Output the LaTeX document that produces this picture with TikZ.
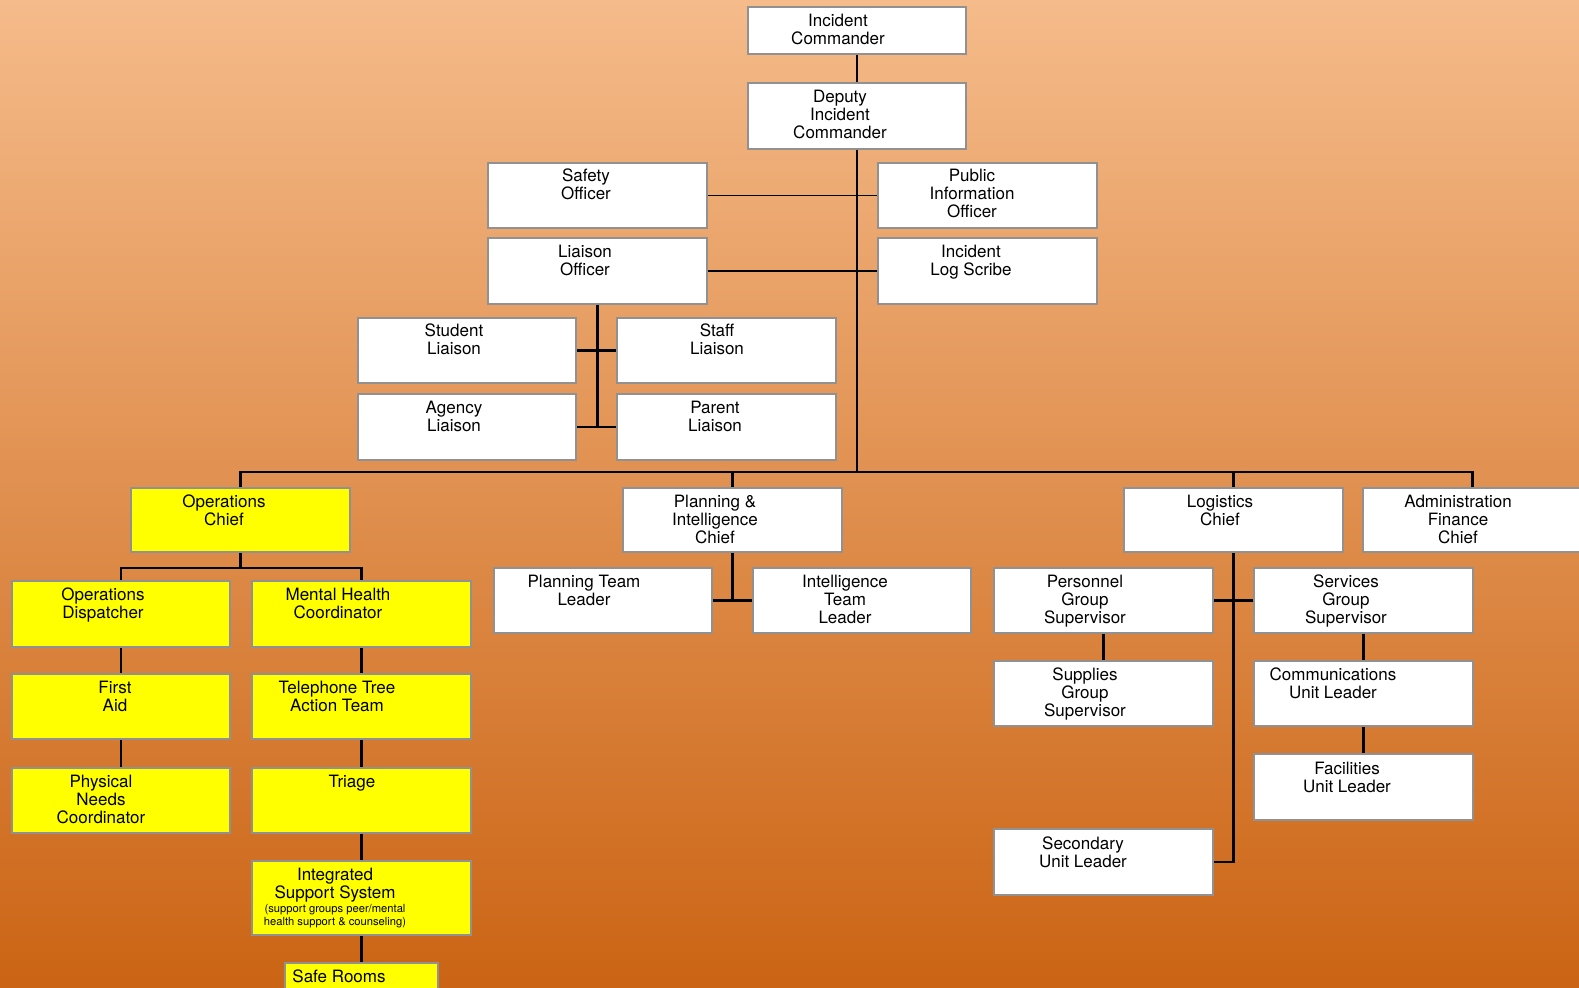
\documentclass[tikz,border=0pt]{standalone}
\usepackage{amsmath}
\usepackage{xcolor}
\usepackage{tikz}
\usepackage{fontspec}
\setmainfont{TeX Gyre Heros}

\definecolor{bgtop}{RGB}{245,187,138}
\definecolor{bgbot}{RGB}{203,100,20}
\definecolor{boxline}{RGB}{145,145,145}
\definecolor{opsyellow}{RGB}{255,255,0}
\newcommand{\isssmall}{\fontsize{8.4}{9.75}\selectfont}

\tikzset{
  wbox/.style={draw=boxline, line width=1.5pt, fill=white, minimum width=164pt, minimum height=49pt, inner sep=0pt},
  ybox/.style={wbox, fill=opsyellow},
  txt/.style={anchor=north, inner sep=0pt, align=center, font=\fontsize{12.75}{13.5}\selectfont},
  link/.style={line width=1.6pt},
  thinlink/.style={line width=1pt}
}

\begin{document}
\begin{tikzpicture}[x=0.75pt,y=0.75pt,yscale=-1,xscale=1]

\useasboundingbox (0,0) rectangle (1579,988);
\shade[top color=bgtop, bottom color=bgbot] (0,0) rectangle (1579,988);

% command staff
\node[wbox, minimum height=35.25pt] (ic) at (857,30.5) {};
\node[wbox, minimum height=49.5pt] (dic) at (857,116) {};
\node[wbox] (safety) at (597.5,195.5) {};
\node[wbox] (pio) at (987.5,195.5) {};
\node[wbox] (liaison) at (597.5,271) {};
\node[wbox] (scribe) at (987.5,271) {};
\node[wbox] (student) at (467,350.5) {};
\node[wbox] (staff) at (726.5,350.5) {};
\node[wbox] (agency) at (467,427) {};
\node[wbox] (parent) at (726.5,427) {};

% section chiefs
\node[ybox, minimum height=48pt] (ops) at (240.5,520) {};
\node[wbox, minimum height=48pt] (plan) at (732.5,520) {};
\node[wbox, minimum height=48pt] (log) at (1233.5,520) {};
\node[wbox, minimum height=48pt] (admin) at (1472.5,520) {};

% operations
\node[ybox] (opsd) at (121,614) {};
\node[ybox] (mhc) at (361.5,614) {};
\node[ybox] (aid) at (121,706.5) {};
\node[ybox] (phone) at (361.5,706.5) {};
\node[ybox] (phys) at (121,800.5) {};
\node[ybox] (triage) at (361.5,800.5) {};
\node[ybox, minimum height=55pt] (iss) at (361.5,898) {};
\node[ybox, minimum width=115pt, minimum height=30pt] (safe) at (361.5,983) {};

% planning
\node[wbox] (ptl) at (603,600.5) {};
\node[wbox] (itl) at (862,600.5) {};

% logistics
\node[wbox] (pgs) at (1103.5,600.5) {};
\node[wbox] (sgs) at (1363.5,600.5) {};
\node[wbox] (supply) at (1103.5,693.5) {};
\node[wbox] (comms) at (1363.5,693.5) {};
\node[wbox] (fac) at (1363.5,787) {};
\node[wbox] (sec) at (1103.5,862) {};

% connectors
\coordinate (bus) at (857,472);
\draw[link] (ic.south) -- (dic.north);
\draw[link] (dic.south) -- (bus);
\draw[thinlink] (safety.east) -- (pio.west);
\draw[thinlink] (liaison.east) -- (scribe.west);
\draw[link] (liaison.south) -- (liaison.south |- agency.east);
\draw[link] (student.east) -- (staff.west);
\draw[link] (agency.east) -- (parent.west);

\draw[link] (ops.north) |- (bus) -| (admin.north);
\draw[link] (plan.north) -- (plan.north |- bus);
\draw[link] (log.north) -- (log.north |- bus);

\draw[link] (ops.south) -- ++(0,15) coordinate (ops-j);
\draw[link] (opsd.north) |- (ops-j) -| (mhc.north);
\draw[link] (opsd.south) -- (aid.north);
\draw[link] (aid.south) -- (phys.north);
\draw[link] (mhc.south) -- (phone.north);
\draw[link] (phone.south) -- (triage.north);
\draw[link] (triage.south) -- (iss.north);
\draw[link] (iss.south) -- (safe.north);

\draw[link] (plan.south) -- (plan.south |- ptl.east);
\draw[link] (ptl.east) -- (itl.west);

\draw[link] (log.south) |- (sec.east);
\draw[link] (pgs.east) -- (sgs.west);
\draw[link] (pgs.south) -- (supply.north);
\draw[link] (sgs.south) -- (comms.north);
\draw[link] (comms.south) -- (fac.north);

% texts
\node[txt] (ic-t) at (838,14) {Incident\\Commander};
\node[txt] (dic-t) at (840,90) {Deputy\\Incident\\Commander};
\node[txt] (safety-t) at (586,169) {Safety\\Officer};
\node[txt] (pio-t) at (972,169) {Public\\Information\\Officer};
\node[txt] (liaison-t) at (585,245) {Liaison\\Officer};
\node[txt] (scribe-t) at (971,245) {Incident\\Log Scribe};
\node[txt] (student-t) at (454,324) {Student\\Liaison};
\node[txt] (staff-t) at (717,324) {Staff\\Liaison};
\node[txt] (agency-t) at (454,401) {Agency\\Liaison};
\node[txt] (parent-t) at (715,401) {Parent\\Liaison};

\node[txt] (ops-t) at (224,495) {Operations\\Chief};
\node[txt] (plan-t) at (715,495) {Planning \&\\Intelligence\\Chief};
\node[txt] (log-t) at (1220,495) {Logistics\\Chief};
\node[txt] (admin-t) at (1458,495) {Administration\\Finance\\Chief};

\node[txt] (opsd-t) at (103,588) {Operations\\Dispatcher};
\node[txt] (mhc-t) at (338,588) {Mental Health\\Coordinator};
\node[txt] (aid-t) at (115,681) {First\\Aid};
\node[txt] (phone-t) at (337,681) {Telephone Tree\\Action Team};
\node[txt] (phys-t) at (101,775) {Physical\\Needs\\Coordinator};
\node[txt] (triage-t) at (352,775) {Triage};
\node[txt] (iss-t) at (335,868) {Integrated\\Support System\\[-3pt]\isssmall (support groups peer/mental\\[-3.75pt]\isssmall health support \& counseling)};
\node[txt] (safe-t) at (339,970) {Safe Rooms};

\node[txt] (ptl-t) at (584,575) {Planning Team\\Leader};
\node[txt] (itl-t) at (845,575) {Intelligence\\Team\\Leader};

\node[txt] (pgs-t) at (1085,575) {Personnel\\Group\\Supervisor};
\node[txt] (sgs-t) at (1346,575) {Services\\Group\\Supervisor};
\node[txt] (supply-t) at (1085,668) {Supplies\\Group\\Supervisor};
\node[txt] (comms-t) at (1333,668) {Communications\\Unit Leader};
\node[txt] (fac-t) at (1347,762) {Facilities\\Unit Leader};
\node[txt] (sec-t) at (1083,837) {Secondary\\Unit Leader};

\end{tikzpicture}
\end{document}
